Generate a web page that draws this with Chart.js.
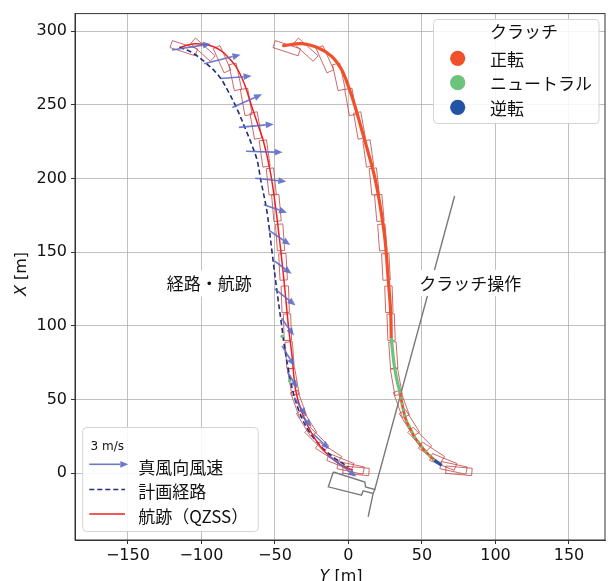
<!DOCTYPE html>
<html>
<head>
<meta charset="utf-8">
<script src="https://cdn.jsdelivr.net/npm/chart.js@4.4.0/dist/chart.umd.min.js"></script>
<style>
html, body { margin: 0; padding: 0; overflow: hidden; background: #fff; }
canvas { display: block; }
</style>
</head>
<body>
<canvas id="chart" width="609" height="595"></canvas>
<script>
// 軸の目盛り
const yTicksH = [-150, -100, -50, 0, 50, 100, 150];   // 横軸 Y [m]
const xTicksV = [0, 50, 100, 150, 200, 250, 300];     // 縦軸 X [m]

// 計画経路 (Y, X)
const planY = [-115, -106, -97, -88, -81.3, -75.7, -70, -65.5, -62, -59.8, -55.4, -52, -48.6, -45.2, -44.1, -40.7, -37.3, -32.8, -27.2, -19.3, -10.3, 0];
const planX = [289.3, 285.3, 278.5, 269.5, 258.3, 247, 233.5, 222.3, 212, 199.8, 177.3, 150.3, 123.3, 98.5, 89.6, 69.3, 53.6, 40, 28.8, 18.7, 10.8, 4];

// 航跡 (QZSS)
const trackY = [-113.8, -108.5, -103.8, -98, -92.6, -87.5, -83.5, -76.7, -71.1, -66.6, -62.1, -57.6, -53.1, -49.7, -47.5, -45.2, -42.9, -40.7, -38.5, -36.2, -32.8, -28.3, -22.7, -15.9, -8, -2, 3];
const trackX = [289.3, 290.8, 291.5, 291, 289.8, 287.3, 284.1, 276.3, 265, 251.5, 238, 224.5, 204.3, 181.8, 163.8, 143.5, 121.1, 98.5, 80.6, 58, 44.5, 33.3, 23.2, 14.2, 7.4, 4, 2];

// 真風向風速の矢印 (根元の位置と成分)
const windY  = [-120, -98.2, -86.9, -79, -74.5, -69.6, -63.4, -57.6, -54.2, -50.2, -50.2, -45.5, -45.2, -41.5, -36.8, -31.5, -23.6, -14.4];
const windX  = [287.3, 278, 267.9, 248.2, 234.7, 218.5, 200.2, 182.2, 164.9, 143.9, 125.1, 105.1, 86.3, 68.8, 51.3, 38.8, 26.3, 12.5];
const windDY = [26.4, 24.8, 21, 20.2, 23.7, 24.8, 21.1, 15.8, 14.6, 11.5, 14.2, 8.4, 8.4, 6.8, 7.9, 6.5, 10.5, 19.7];
const windDX = [4.1, 6.1, 1.7, 9, 2.2, -0.7, -2.3, -5.4, -10.1, -8.6, -11.3, -11.8, -13.7, -11.3, -12.5, -7.5, -10, -15];

// 船体の位置と向き (左: 経路・航跡、右: クラッチ操作)
const boatY   = [-112, -99, -86, -77, -69.5, -63, -57, -52.5, -49, -46.5, -44.5, -43, -41.5, -40, -37.5, -34, -28.5, -21.5, -13.5, -5.5, 1.5, 5];
const boatX   = [288.5, 287.5, 281, 269, 252, 236, 217, 198, 180, 160, 140, 118, 99, 80, 62, 47, 34, 23, 14, 7.5, 3.5, 1.5];
const boatHdg = [-18, -42, -66, -78, -80, -80, -82, -84, -85, -86, -87, -88, -88, -86, -80, -70, -58, -45, -33, -22, -12, -5];
const boat2Y  = [-42, -29, -16, -6.5, 1.5, 7.5, 13.5, 17.5, 21, 23, 25.5, 27.5, 29, 30.5, 32.5, 36, 41.5, 48.5, 56.5, 64.5, 71.5, 75];
const boat2X  = [288.5, 287.5, 281, 269, 252, 236, 217, 198, 180, 160, 140, 118, 99, 80, 62, 47, 34, 23, 14, 7.5, 3.5, 1.5];
const boat2Hdg = [-18, -42, -66, -78, -80, -80, -82, -84, -85, -86, -87, -88, -88, -86, -80, -70, -58, -45, -33, -22, -12, -5];

// クラッチ状態ごとの航跡
const fwdY = [-44.1, -31.7, -20.4, -11.4, -4.7, -0.1, 4.4, 8.9, 13.4, 17.9, 21.3, 24.7, 27, 28.7, 29.1];
const fwdX = [290.2, 291.6, 288.6, 283, 274, 262.8, 249.3, 233.5, 217.8, 200.8, 183, 160, 132.3, 109.8, 91.8];
const neuY = [29.1, 30.2, 31.4, 33, 34.8];
const neuX = [91.8, 81, 71.5, 63, 55.8];
const mixY = [34.8, 37, 39.3, 41.6, 45, 48.3, 51.7, 55.1, 58.5];
const mixX = [55.8, 44.5, 35.6, 31, 24.3, 19.8, 15.3, 11.9, 8.6];
const revY = [58.5, 61, 63.5];
const revX = [8.6, 6.8, 5.2];
const neuDotY = [-45.1, -40];
const neuDotX = [92.9, 62.6];

// 岸壁
const pierY = [-10.3, 11.2, 11.6, 17.9, 16.8, 10.0, 8.9, -13.7, -10.3];
const pierX = [0.7, -6.1, -9.4, -11.2, -13.9, -12.1, -15.0, -9.4, 0.7];
const quayY = [72.2, 17.9, null, 16.8, 13.4];
const quayX = [188.1, -11.2, null, -13.9, -29.7];

// 注記
const noteText = ['経路・航跡', 'クラッチ操作'];
const noteY = [-94.6, 82.8];
const noteX = [128.7, 129];

// 凡例
const clutchTitle = 'クラッチ';
const clutchLabels = ['正転', 'ニュートラル', '逆転'];
const clutchColors = ['#f0502a', '#6cc47c', '#2353a5'];
const windScaleText = '3 m/s';
const lineLabels = ['真風向風速', '計画経路', '航跡（QZSS）'];

const FONT_JP = '"Noto Sans CJK JP", "Noto Sans", sans-serif';
const FONT_NUM = '"DejaVu Sans", sans-serif';
const WIND_COLOR = 'rgba(92,106,200,0.9)';
const PLAN_COLOR = '#232d78';
const TRACK_COLOR = '#ee2020';
const BOAT_COLOR = 'rgba(192,68,68,0.8)';
const GREY = '#7a7a7a';

const pts = (ys, xs) => ys.map((v, i) => ({ x: v, y: xs[i] }));

// 船体の外形 (長さ 18 m、幅 5 m)
function boatPoints(ys, xs, hdgs) {
    const out = [];
    const L = 18, W = 5;
    ys.forEach((cy, i) => {
        const a = hdgs[i] * Math.PI / 180;
        const dx = Math.cos(a), dy = Math.sin(a);
        const nx = -dy, ny = dx;
        const c = [[1, 1], [1, -1], [-1, -1], [-1, 1], [1, 1]];
        c.forEach(([s, t]) => out.push({
            x: cy + s * dx * L / 2 + t * nx * W / 2,
            y: xs[i] + s * dy * L / 2 + t * ny * W / 2
        }));
        out.push({ x: null, y: null });
    });
    return out;
}

function lineSet(data, color, width, order, extra) {
    return Object.assign({
        data, showLine: true, borderColor: color, borderWidth: width,
        pointRadius: 0, tension: 0.35, fill: false, order
    }, extra || {});
}

const minus = v => String(v).replace('-', '\u2212');

const arrowsPlugin = {
    id: 'arrows',
    afterDatasetsDraw(chart) {
        const { ctx, scales: { x, y }, chartArea } = chart;
        ctx.save();
        ctx.beginPath();
        ctx.rect(chartArea.left, chartArea.top, chartArea.width, chartArea.height);
        ctx.clip();
        windY.forEach((wy, i) => {
            const x0 = x.getPixelForValue(wy), y0 = y.getPixelForValue(windX[i]);
            const x1 = x.getPixelForValue(wy + windDY[i]), y1 = y.getPixelForValue(windX[i] + windDX[i]);
            drawArrow(ctx, x0, y0, x1, y1);
        });
        ctx.restore();

        // 注記
        ctx.save();
        ctx.font = '17px ' + FONT_JP;
        ctx.textAlign = 'center';
        ctx.textBaseline = 'middle';
        noteText.forEach((t, i) => {
            const px = x.getPixelForValue(noteY[i]), py = y.getPixelForValue(noteX[i]);
            const w = ctx.measureText(t).width;
            ctx.fillStyle = '#fff';
            ctx.fillRect(px - w / 2 - 4, py - 13, w + 8, 26);
            ctx.fillStyle = '#111';
            ctx.fillText(t, px, py);
        });
        ctx.restore();
    }
};

function drawArrow(ctx, x0, y0, x1, y1) {
    const ang = Math.atan2(y1 - y0, x1 - x0);
    const hl = 8, hw = 3.4;
    const bx = x1 - hl * Math.cos(ang), by = y1 - hl * Math.sin(ang);
    ctx.strokeStyle = WIND_COLOR;
    ctx.fillStyle = WIND_COLOR;
    ctx.lineWidth = 1.6;
    ctx.beginPath();
    ctx.moveTo(x0, y0);
    ctx.lineTo(bx, by);
    ctx.stroke();
    ctx.beginPath();
    ctx.moveTo(x1, y1);
    ctx.lineTo(bx - hw * Math.sin(ang), by + hw * Math.cos(ang));
    ctx.lineTo(bx + hw * Math.sin(ang), by - hw * Math.cos(ang));
    ctx.closePath();
    ctx.fill();
}

function roundBox(ctx, x0, y0, x1, y1, r) {
    ctx.beginPath();
    ctx.moveTo(x0 + r, y0);
    ctx.arcTo(x1, y0, x1, y1, r);
    ctx.arcTo(x1, y1, x0, y1, r);
    ctx.arcTo(x0, y1, x0, y0, r);
    ctx.arcTo(x0, y0, x1, y0, r);
    ctx.closePath();
    ctx.fillStyle = 'rgba(255,255,255,0.85)';
    ctx.fill();
    ctx.strokeStyle = '#d4d4d4';
    ctx.lineWidth = 1;
    ctx.stroke();
}

const framePlugin = {
    id: 'frame',
    afterDraw(chart) {
        const { ctx, chartArea: a } = chart;
        ctx.save();
        ctx.strokeStyle = '#333';
        ctx.lineWidth = 1;
        ctx.strokeRect(a.left, a.top, a.right - a.left, a.bottom - a.top);

        // 軸タイトル
        ctx.fillStyle = '#111';
        ctx.textBaseline = 'middle';
        const title = (v) => {
            ctx.font = 'italic 16px ' + FONT_NUM;
            const w1 = ctx.measureText(v).width;
            ctx.font = '16px ' + FONT_NUM;
            const w2 = ctx.measureText(' [m]').width;
            return [w1, w2];
        };
        let [w1, w2] = title('Y');
        let sx = 341 - (w1 + w2) / 2;
        ctx.font = 'italic 16px ' + FONT_NUM;
        ctx.fillText('Y', sx, 577);
        ctx.font = '16px ' + FONT_NUM;
        ctx.fillText(' [m]', sx + w1, 577);
        ctx.save();
        ctx.translate(22, 274);
        ctx.rotate(-Math.PI / 2);
        [w1, w2] = title('X');
        sx = -(w1 + w2) / 2;
        ctx.font = 'italic 16px ' + FONT_NUM;
        ctx.fillText('X', sx, 0);
        ctx.font = '16px ' + FONT_NUM;
        ctx.fillText(' [m]', sx + w1, 0);
        ctx.restore();

        // 凡例 (クラッチ)
        roundBox(ctx, 433.5, 19.5, 599, 123.5, 4);
        ctx.fillStyle = '#111';
        ctx.font = '17px ' + FONT_JP;
        ctx.textAlign = 'center';
        ctx.fillText(clutchTitle, 524, 32);
        ctx.textAlign = 'left';
        const rows = [58.3, 82.7, 107.3];
        clutchLabels.forEach((t, i) => {
            ctx.beginPath();
            ctx.arc(457.7, rows[i], 7.6, 0, Math.PI * 2);
            ctx.fillStyle = clutchColors[i];
            ctx.fill();
            ctx.fillStyle = '#111';
            ctx.fillText(t, 490, rows[i] + 1);
        });

        // 凡例 (線)
        roundBox(ctx, 82.7, 427.5, 258.3, 531.5, 4);
        ctx.fillStyle = '#111';
        ctx.font = '12px ' + FONT_NUM;
        ctx.fillText(windScaleText, 90.5, 447);
        drawArrow(ctx, 89.3, 464.3, 128.3, 464.3);
        ctx.setLineDash([5, 3]);
        ctx.strokeStyle = PLAN_COLOR;
        ctx.lineWidth = 1.6;
        ctx.beginPath(); ctx.moveTo(89.3, 489.5); ctx.lineTo(125, 489.5); ctx.stroke();
        ctx.setLineDash([]);
        ctx.strokeStyle = TRACK_COLOR;
        ctx.lineWidth = 1.5;
        ctx.beginPath(); ctx.moveTo(89.3, 514); ctx.lineTo(125, 514); ctx.stroke();
        ctx.fillStyle = '#111';
        ctx.font = '17px ' + FONT_JP;
        [466.7, 490.7, 515.7].forEach((yy, i) => ctx.fillText(lineLabels[i], 138.3, yy + 1));
        ctx.restore();
    }
};

const tickStyle = {
    font: { family: FONT_NUM, size: 16 },
    color: '#111',
    autoSkip: false,
    maxRotation: 0,
    callback: v => minus(v)
};
const gridStyle = { color: '#b0b0b0', lineWidth: 0.8, tickLength: 4, tickColor: '#333', tickWidth: 1 };

new Chart(document.getElementById('chart'), {
    type: 'scatter',
    data: {
        datasets: [
            lineSet(boatPoints(boatY, boatX, boatHdg), BOAT_COLOR, 1, 20, { tension: 0 }),
            lineSet(boatPoints(boat2Y, boat2X, boat2Hdg), BOAT_COLOR, 1, 20, { tension: 0 }),
            lineSet(pts(pierY, pierX), GREY, 1.4, 19, { tension: 0 }),
            lineSet(pts(quayY, quayX), GREY, 1.4, 19, { tension: 0 }),
            lineSet(pts(planY, planX), PLAN_COLOR, 1.6, 8, { borderDash: [5, 3] }),
            lineSet(pts(trackY, trackX), TRACK_COLOR, 1.5, 7),
            lineSet(pts(fwdY, fwdX), clutchColors[0], 3.2, 6, { borderCapStyle: 'round' }),
            lineSet(pts(neuY, neuX), clutchColors[1], 3.2, 5),
            lineSet(pts(mixY, mixX), clutchColors[0], 2.8, 4),
            lineSet(pts(mixY, mixX), clutchColors[1], 3, 3, { borderDash: [2.5, 3.5] }),
            lineSet(pts(revY, revX), clutchColors[2], 3, 2),
            { data: pts(neuDotY, neuDotX), pointRadius: 1.8, pointBackgroundColor: clutchColors[1], pointBorderWidth: 0, showLine: false, order: 1 }
        ]
    },
    options: {
        responsive: false,
        animation: false,
        events: [],
        layout: { padding: { top: 10.5, right: 1.5, left: 0, bottom: 0 } },
        plugins: { legend: { display: false }, tooltip: { enabled: false } },
        scales: {
            x: {
                type: 'linear', min: -186, max: 174.5,
                afterBuildTicks: s => { s.ticks = yTicksH.map(v => ({ value: v })); },
                afterFit: s => { s.height = 55; },
                ticks: Object.assign({ padding: 2 }, tickStyle),
                grid: gridStyle,
                border: { color: '#333', width: 1 }
            },
            y: {
                type: 'linear', min: -45.5, max: 312,
                afterBuildTicks: s => { s.ticks = xTicksV.map(v => ({ value: v })); },
                afterFit: s => { s.width = 75; },
                ticks: Object.assign({ padding: 4 }, tickStyle),
                grid: gridStyle,
                border: { color: '#333', width: 1 }
            }
        }
    },
    plugins: [arrowsPlugin, framePlugin]
});
</script>
</body>
</html>
